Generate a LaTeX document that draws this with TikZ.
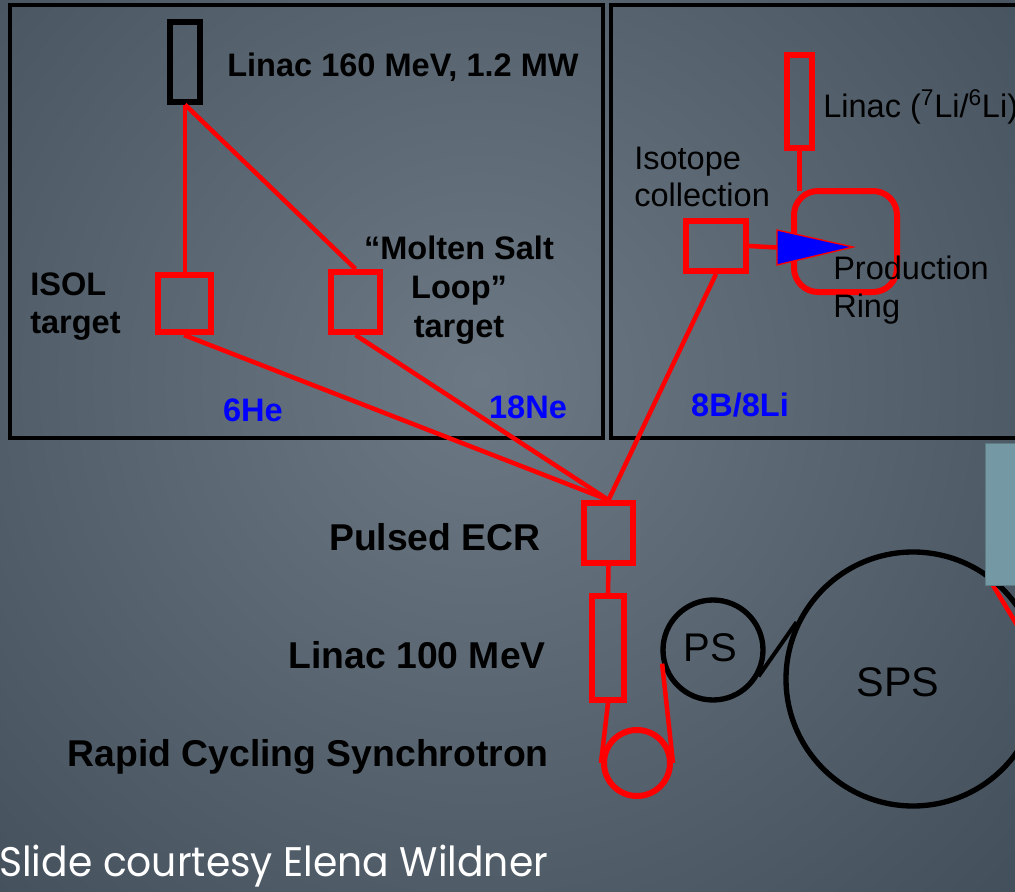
\documentclass[tikz,border=0pt]{standalone}
\usepackage{fontspec}
\setmainfont{Liberation Sans}
\newfontfamily\footfont[FakeStretch=0.95]{Poppins}
\definecolor{bgIn}{HTML}{6C7984}
\definecolor{bgOut}{HTML}{3A4652}
\definecolor{rd}{HTML}{FF0000}
\definecolor{bl}{HTML}{0000FF}
\definecolor{teal}{HTML}{7599A4}
\def\pxu{0.75pt}
\tikzset{
  frame/.style={draw=black, line width=2.8pt},
  rbox/.style={draw=rd, line width=4.5pt, inner sep=0pt, rectangle},
  kbox/.style={draw=black, line width=4pt, inner sep=0pt, rectangle},
  conn/.style={draw=rd, line width=3.4pt},
  ring/.style={draw=black, line width=4pt, circle, inner sep=0pt},
  lblB/.style={font=\fontsize{24.4}{28.5}\selectfont\bfseries, inner sep=0pt, text=black},
  lblL/.style={font=\fontsize{28}{32}\selectfont\bfseries, inner sep=0pt, text=black, anchor=east},
  lblR/.style={font=\fontsize{24.4}{28}\selectfont, inner sep=0pt, text=black},
  iso/.style={font=\fontsize{24.4}{28}\selectfont\bfseries, inner sep=0pt, text=bl},
}
\begin{document}
\begin{tikzpicture}[x=0.75pt, y=-0.75pt]
\useasboundingbox (0,0) rectangle (1015,892);
\clip (0,0) rectangle (1015,892);
% background
\shade[inner color=bgIn, outer color=bgOut] (-420,-520) rectangle (1380,1280);

% frames
\draw[frame] (10,5) rectangle (603,438);
\draw[frame] (611,5) rectangle (1030,438);

% left panel nodes
\node[kbox, minimum width=30*\pxu, minimum height=80*\pxu] (linacA) at (185,62) {};
\node[rbox, minimum width=53*\pxu, minimum height=57*\pxu] (isol) at (184,303.5) {};
\node[rbox, minimum width=49*\pxu, minimum height=60*\pxu] (molten) at (355.5,302) {};

% lower chain
\node[rbox, minimum width=49*\pxu, minimum height=60*\pxu] (ecr) at (608.5,533) {};
\node[rbox, minimum width=32*\pxu, minimum height=104*\pxu] (linacB) at (608,648) {};
\node[draw=rd, line width=4.5pt, circle, inner sep=0pt, minimum size=66*\pxu] (rcs) at (637,763) {};

% right panel nodes
\node[rbox, minimum width=25*\pxu, minimum height=93*\pxu] (linacC) at (799.5,101.5) {};
\node[rbox, rounded corners=18pt, minimum width=103*\pxu, minimum height=101*\pxu] (prod) at (845.5,241.5) {};
\node[rbox, minimum width=60*\pxu, minimum height=50*\pxu] (isobox) at (716,246) {};
\coordinate (triL) at (777,247.5);
\coordinate (triT) at (777,230);
\coordinate (triB) at (777,265);
\coordinate (triTip) at (853,247);

% red fragment under teal panel
\coordinate (fragA) at (985,572);
\coordinate (fragB) at (1020,630);
\draw[conn] (fragA) -- (fragB);

% PS / SPS
\node[ring, minimum size=100*\pxu] (ps) at (713,650) {};
\node[ring, minimum size=254*\pxu] (sps) at (913,679) {};

% connectors
\draw[conn] (linacA.south) -- (linacA.south |- isol.north);
\draw[conn] (linacA.south) -- (molten.north);
\draw[conn] (isol.south) -- (ecr.north);
\draw[conn] (molten.south) -- (ecr.north);
\draw[conn] (isobox.south) -- (ecr.north);
\draw[conn] (ecr.south) -- (linacB.north);
\draw[conn] (linacB.south) -- (rcs.west);
\draw[conn] (rcs.east) -- (ps.195);
\draw[draw=black, line width=3pt] (ps.330) -- (sps.154);
\draw[conn] (linacC.south) -- ([yshift=-2pt]linacC.south |- prod.north);
\draw[conn] (isobox.east) -- (triL);
\draw[draw=rd, line width=1pt, fill=bl] (triT) -- (triTip) -- (triB) -- cycle;

% teal panel
\node[draw=teal!80!black, line width=0.8pt, fill=teal, minimum width=34*\pxu, minimum height=142*\pxu, inner sep=0pt, anchor=north west] (tealp) at (985,443) {};

% labels
\node[lblB, anchor=west] (tLinacA) at (227,67) {Linac 160 MeV, 1.2 MW};
\node[lblB, anchor=west, align=left] (tIsol) at (30,307) {ISOL\\target};
\node[lblB, align=center, font=\fontsize{24.4}{29}\selectfont\bfseries] (tMolten) at (459,290) {“Molten Salt\\Loop”\\target};
\node[iso] (t6He) at (253,410) {6He};
\node[iso] (t18Ne) at (528,407) {18Ne};
\node[iso] (t8B) at (740,405) {8B/8Li};
\node[lblL] (tECR) at (541,537) {Pulsed ECR};
\node[lblL] (tLinacB) at (546,655) {Linac 100 MeV};
\node[lblL] (tRCS) at (549,757) {Rapid Cycling Synchrotron};
\node[lblR, anchor=west, align=left] (tIso) at (634,177) {Isotope\\collection};
\node[lblR, anchor=west] (tLinacC) at (823,107) {Linac (\textsuperscript{7}Li/\textsuperscript{6}Li)};
\node[lblR, anchor=west, align=left] (tProd) at (833,290) {Production\\Ring};
\node[lblR, font=\fontsize{30}{34}\selectfont] (tPS) at (710,648) {PS};
\node[lblR, font=\fontsize{31}{34}\selectfont] (tSPS) at (898,682) {SPS};
\node[anchor=west, inner sep=0pt, text=white, font=\footfont\fontsize{31}{34}\selectfont] (foot) at (-1,866) {Slide courtesy Elena Wildner};
\end{tikzpicture}
\end{document}
